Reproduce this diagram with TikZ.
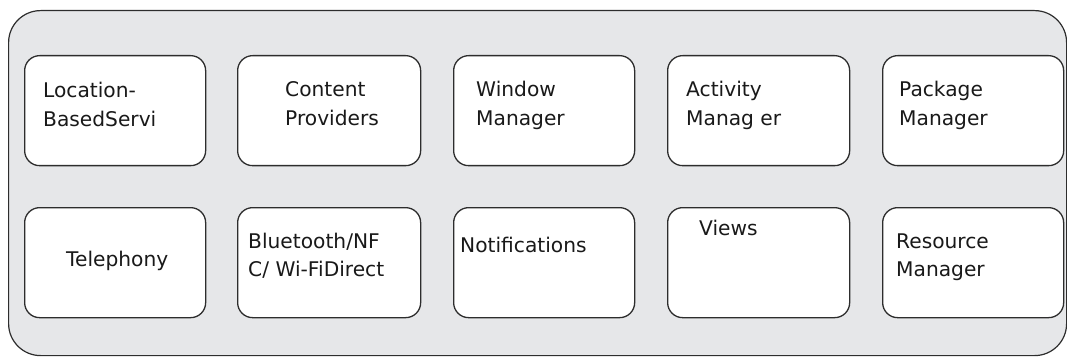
\documentclass[tikz,border=0pt]{standalone}
\usepackage{fontspec}
\setmainfont{DejaVu Sans}
\definecolor{panelgray}{RGB}{230,231,233}
\definecolor{edgegray}{RGB}{45,45,45}
\definecolor{txtgray}{RGB}{25,25,25}
\newcommand{\boxtext}[1]{\fontsize{20.2}{28.5}\selectfont\begin{tabular}[t]{@{}l@{}}#1\end{tabular}}
\begin{document}
\begin{tikzpicture}[x=1pt,y=-1pt,
  panel/.style={draw=edgegray, line width=1.2pt, fill=panelgray, rounded corners=32pt,
    minimum width=1058pt, minimum height=345pt, anchor=north west, inner sep=0pt},
  cell/.style={draw=edgegray, line width=1.3pt, fill=white, rounded corners=15pt,
    minimum width=181pt, minimum height=110pt, anchor=north west, inner sep=0pt},
  lbl/.style={anchor=base west, inner sep=0pt, text=txtgray}]
\useasboundingbox (0,0) rectangle (1067,358);
\node[panel] (frame) at (8,10) {};
% row 1
\node[cell] (b1) at (24,55) {};
\node[cell, minimum width=183pt] (b2) at (237,55) {};
\node[cell] (b3) at (453,55) {};
\node[cell, minimum width=182pt] (b4) at (667,55) {};
\node[cell] (b5) at (882,55) {};
% row 2
\node[cell] (c1) at (24,207) {};
\node[cell, minimum width=183pt] (c2) at (237,207) {};
\node[cell] (c3) at (453,207) {};
\node[cell, minimum width=182pt] (c4) at (667,207) {};
\node[cell] (c5) at (882,207) {};
% labels
\node[lbl] (t1) at (43,98) {\boxtext{Location-\\BasedServi}};
\node[lbl] (t2) at (285,97) {\boxtext{Content\\Providers}};
\node[lbl] (t3) at (476,97) {\boxtext{Window\\Manager}};
\node[lbl] (t4) at (686,97) {\boxtext{Activity\\Manag er}};
\node[lbl] (t5) at (899,97) {\boxtext{Package\\Manager}};
\node[lbl] (u1) at (66,266) {\boxtext{Telephony}};
\node[lbl] (u2) at (248,248) {\boxtext{Bluetooth/NF\\C/ Wi-FiDirect}};
\node[lbl] (u3) at (460,252) {\boxtext{Notifications}};
\node[lbl] (u4) at (699,235) {\boxtext{Views}};
\node[lbl] (u5) at (896,248) {\boxtext{Resource\\Manager}};
\end{tikzpicture}
\end{document}
